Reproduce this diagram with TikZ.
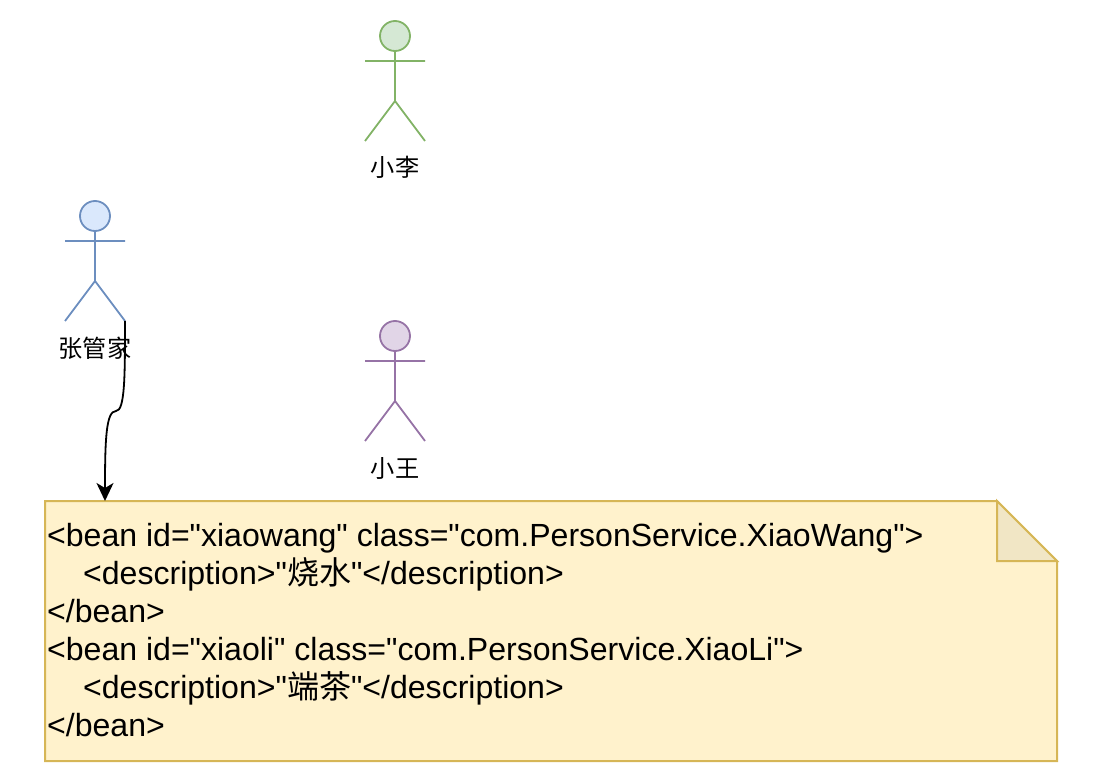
\documentclass[tikz,border=0pt]{standalone}
\usepackage{fontspec}
\setmainfont{Liberation Sans}
\newfontfamily\codefont{Liberation Sans}
\newfontfamily\cjk{Noto Sans CJK SC}
\usetikzlibrary{arrows.meta}
\definecolor{gF}{HTML}{D5E8D4}\definecolor{gD}{HTML}{82B366}
\definecolor{bF}{HTML}{DAE8FC}\definecolor{bD}{HTML}{6C8EBF}
\definecolor{pF}{HTML}{E1D5E7}\definecolor{pD}{HTML}{9673A6}
\definecolor{yF}{HTML}{FFF2CC}\definecolor{yD}{HTML}{D6B656}
\definecolor{yS}{HTML}{F1E6C5}
\tikzset{x=1pt,y=-1pt,
 lbl/.style={font=\cjk\fontsize{24.2}{26}\selectfont,inner sep=0pt,anchor=center},
 code/.style={font=\codefont\fontsize{32.05}{38}\selectfont,inner sep=0pt,anchor=base west}}
\newcommand{\actor}[4]{% cx, top, fill, draw
 \draw[#4,line width=1.8pt,fill=#3] (#1,#2+15) circle[radius=15];
 \draw[#4,line width=1.8pt] (#1,#2+30) -- (#1,#2+80) (#1-30,#2+40) -- (#1+30,#2+40)
   (#1-30,#2+120) -- (#1,#2+80) -- (#1+30,#2+120);
}
\begin{document}
\begin{tikzpicture}
\useasboundingbox (0,0) rectangle (1096,770);
\actor{395}{21}{gF}{gD}
\actor{95}{201}{bF}{bD}
\actor{395}{321}{pF}{pD}
\node[lbl] (li) at (395,167) {小李};
\node[lbl] (zhang) at (95,348) {张管家};
\node[lbl] (wang) at (395,468) {小王};
\coordinate (foot) at (125,321);
\coordinate (notetop) at (105,501);
\draw[yD,line width=2pt,fill=yF] (45,501) -- (997,501) -- (1057,561) -- (1057,761) -- (45,761) -- cycle;
\draw[yD,line width=2pt,fill=yS] (997,501) -- (997,561) -- (1057,561) -- cycle;
\draw[black,line width=1.8pt,-{Stealth[length=18pt,width=17pt,inset=5pt]}] (foot) .. controls (125,375) and (125,411) .. (116,411) .. controls (106,411) and (105,440) .. (notetop);
\node[code] (c1) at (47,546) {<bean id="xiaowang" class="com.PersonService.XiaoWang">};
\node[code] (c2) at (83,584) {<description>"{\cjk 烧水}"</description>};
\node[code] (c3) at (47,622) {</bean>};
\node[code] (c4) at (47,660) {<bean id="xiaoli" class="com.PersonService.XiaoLi">};
\node[code] (c5) at (83,698) {<description>"{\cjk 端茶}"</description>};
\node[code] (c6) at (47,736) {</bean>};
\end{tikzpicture}
\end{document}
